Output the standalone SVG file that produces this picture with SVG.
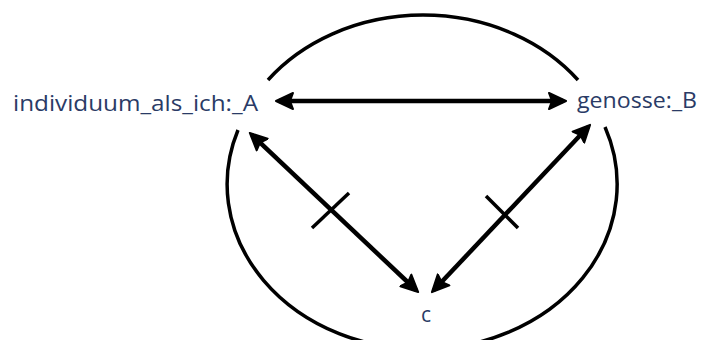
<svg xmlns="http://www.w3.org/2000/svg" width="702" height="340" viewBox="0 0 702 340">
  <style>
    .lbl { font-family: "Open Sans", "Noto Sans", sans-serif; font-size: 21px; fill: #2a3b66; }
    .ring { fill: none; stroke: #000; stroke-width: 3.5; }
    .edge { fill: none; stroke: #000; stroke-width: 4.5; marker-start: url(#head); marker-end: url(#head); }
    .tick { stroke: #000; stroke-width: 3.5; }
  </style>
  <defs>
    <marker id="head" viewBox="0 -10 20 20" markerUnits="userSpaceOnUse" markerWidth="20" markerHeight="20" refX="15" refY="0" orient="auto-start-reverse">
      <path d="M1,-8 L18,0 L1,8 L4,0 Z" fill="#000" stroke="#000" stroke-width="2" stroke-linejoin="round"/>
    </marker>
  </defs>
  <rect width="702" height="340" fill="#fff"/>
  <g id="ring">
    <path class="ring" d="M268,80 A195,165 0 0 1 578,80"/>
    <path class="ring" d="M238,130 A195,165 0 1 0 605,127"/>
  </g>
  <g id="connectors">
    <line class="edge" x1="279" y1="101" x2="563" y2="101"/>
    <line class="edge" x1="252" y1="135" x2="416" y2="290"/>
    <line class="edge" x1="434" y1="290" x2="588" y2="127"/>
    <line class="tick" x1="312" y1="228" x2="349" y2="193"/>
    <line class="tick" x1="486" y1="196" x2="518" y2="228"/>
  </g>
  <g id="node-a">
    <text class="lbl" x="13" y="111" textLength="245" lengthAdjust="spacingAndGlyphs">individuum_als_ich:_A</text>
  </g>
  <g id="node-b">
    <text class="lbl" x="577" y="108" textLength="120" lengthAdjust="spacingAndGlyphs">genosse:_B</text>
  </g>
  <g id="node-c">
    <text class="lbl" x="421" y="322">c</text>
  </g>
</svg>
